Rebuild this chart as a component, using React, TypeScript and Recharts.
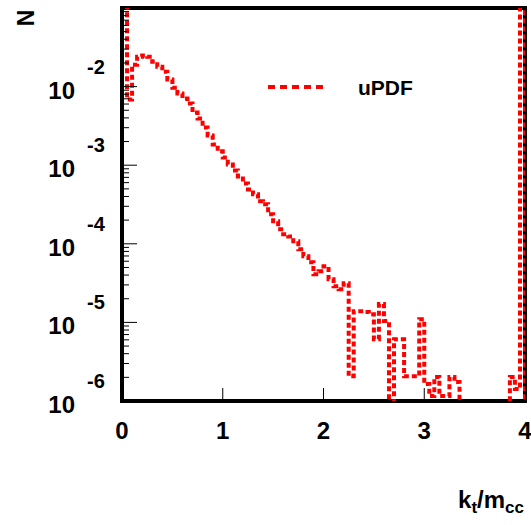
import React from 'react';
import { LineChart, Line, XAxis, YAxis, ReferenceArea } from 'recharts';

const FONT = "'Liberation Sans', Arial, Helvetica, sans-serif";

// histogram binning of k_t/m_cc
const BIN_WIDTH = 0.05;
const X_MIN = 0;
const X_MAX = 4;

// bin contents (0 = empty bin, values above 1e-1 are off scale)
const uPDF = [
  1, 6.84e-3, 1.9e-2, 2.4e-2, 2.48e-2, 2.4e-2, 2.07e-2, 1.79e-2, 1.55e-2, 1.23e-2,
  9.7e-3, 8.15e-3, 7.05e-3, 6.08e-3, 4.68e-3, 3.93e-3, 3.01e-3, 2.39e-3, 1.83e-3, 1.5e-3,
  1.25e-3, 1.02e-3, 8.57e-4, 7.19e-4, 5.86e-4, 4.92e-4, 4.26e-4, 3.47e-4, 3.18e-4, 2.37e-4,
  1.93e-4, 1.53e-4, 1.32e-4, 1.24e-4, 1.08e-4, 8.51e-5, 6.93e-5, 5.82e-5, 4.1e-5, 4.48e-5,
  5.18e-5, 3.54e-5, 2.88e-5, 2.64e-5, 3.15e-5, 2.07e-6, 1.39e-5, 1.39e-5, 1.36e-5, 1.27e-5,
  6.12e-6, 1.71e-5, 1.04e-5, 0, 6.12e-6, 6.12e-6, 2.07e-6, 2.07e-6, 2.07e-6, 1.1e-5,
  1.64e-6, 1.16e-6, 2.02e-6, 1.16e-6, 1.16e-6, 2.02e-6, 1.74e-6, 0, 0, 0,
  0, 0, 0, 0, 0, 0, 0, 2.02e-6, 1.42e-6, 1,
];

const xTicks = [0, 1, 2, 3, 4];
const yMajorTicks = [1e-6, 1e-5, 1e-4, 1e-3, 1e-2];
const yMinorSteps = [2, 3, 4, 5, 6, 7, 8, 9];
const Y_MIN = 1e-6;
const Y_MAX = 1e-1;

// empty bins go below the log axis floor (clipped)
const FLOOR = 1e-9;

const data = uPDF.map((v, i) => ({ x: +(X_MIN + i * BIN_WIDTH).toFixed(2), n: v > 0 ? v : FLOOR }));
data.push({ x: X_MAX, n: FLOOR });

const yTicks = [
  ...yMajorTicks,
  ...yMajorTicks.flatMap((d) => yMinorSteps.map((m) => +(d * m).toPrecision(3))),
].sort((a, b) => a - b);

function isMajor(v: number) {
  const l = Math.log10(v);
  return Math.abs(l - Math.round(l)) < 1e-6;
}

function YTick(props: any) {
  const { x, y, payload } = props;
  const v = payload.value;
  const major = isMajor(v);
  return (
    <g>
      <line x1={x} x2={x + (major ? 15 : 7)} y1={y} y2={y} stroke="#000" strokeWidth={1} />
      {major && (
        <>
          <text x={x - 47} y={y + 12} textAnchor="end" fontFamily={FONT} fontWeight="bold" fontSize={24} fill="#000">
            10
          </text>
          <text x={x - 35} y={y - 13} textAnchor="start" fontFamily={FONT} fontWeight="bold" fontSize={20} fill="#000">
            {String(Math.round(Math.log10(v)))}
          </text>
        </>
      )}
    </g>
  );
}

function XTick(props: any) {
  const { x, y, payload } = props;
  const v = payload.value;
  return (
    <g>
      {v > X_MIN && v < X_MAX && <line x1={x} x2={x} y1={y} y2={y - 13} stroke="#000" strokeWidth={1} />}
      <text x={x} y={y + 38} textAnchor="middle" fontFamily={FONT} fontWeight="bold" fontSize={24} fill="#000">
        {v}
      </text>
    </g>
  );
}

function XTitle(props: any) {
  const { x, y, width } = props.viewBox;
  return (
    <text x={x + width - 1} y={y + 107} textAnchor="end" fontFamily={FONT} fontWeight="bold" fontSize={24} fill="#000">
      k
      <tspan fontSize={17} dy={5}>t</tspan>
      <tspan dy={-5}>/m</tspan>
      <tspan fontSize={17} dy={5}>cc</tspan>
    </text>
  );
}

function YTitle(props: any) {
  const { x, y } = props.viewBox;
  const cx = x + 26;
  const cy = y + 10;
  return (
    <text
      x={cx}
      y={cy}
      textAnchor="middle"
      dominantBaseline="central"
      transform={`rotate(-90 ${cx} ${cy})`}
      fontFamily={FONT}
      fontWeight="bold"
      fontSize={23}
      fill="#000"
    >
      N
    </text>
  );
}

export default function App() {
  return (
    <div style={{ position: 'absolute', left: 0, top: 0, width: 531, height: 525, background: '#fff' }}>
      <LineChart width={531} height={525} data={data} margin={{ top: 8, right: 6, bottom: 0, left: 0 }}>
        <XAxis
          dataKey="x"
          type="number"
          domain={[X_MIN, X_MAX]}
          allowDataOverflow
          ticks={xTicks}
          interval={0}
          tick={(p: any) => <XTick {...p} />}
          tickSize={0}
          tickMargin={0}
          tickLine={false}
          axisLine={false}
          height={124}
          label={(p: any) => <XTitle {...p} />}
        />
        <YAxis
          type="number"
          scale="log"
          domain={[Y_MIN, Y_MAX]}
          allowDataOverflow
          ticks={yTicks}
          interval={0}
          tick={(p: any) => <YTick {...p} />}
          tickSize={0}
          tickMargin={0}
          tickLine={false}
          axisLine={false}
          width={122}
          label={(p: any) => <YTitle {...p} />}
        />
        <Line
          type="stepAfter"
          dataKey="n"
          stroke="#ff0000"
          strokeWidth={4}
          strokeDasharray="5 3"
          dot={false}
          isAnimationActive={false}
        />
        <ReferenceArea x1={X_MIN} x2={X_MAX} y1={Y_MIN} y2={Y_MAX} fill="none" stroke="#000" strokeWidth={4} />
      </LineChart>
      <div style={{ position: 'absolute', left: 266, top: 76, display: 'flex', alignItems: 'center' }}>
        <svg width={60} height={24}>
          <line x1={2} x2={58} y1={11} y2={11} stroke="#ff0000" strokeWidth={4} strokeDasharray="7 5" />
        </svg>
        <span style={{ marginLeft: 32, fontFamily: FONT, fontWeight: 'bold', fontSize: 21, color: '#000', lineHeight: '24px' }}>
          uPDF
        </span>
      </div>
    </div>
  );
}
